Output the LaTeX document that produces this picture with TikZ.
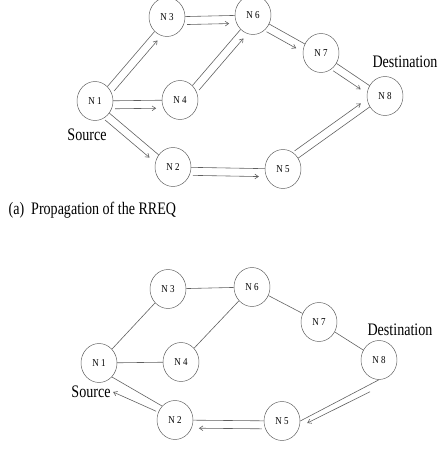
\documentclass[tikz,border=0pt]{standalone}
\usepackage{fontspec}
\setmainfont{Liberation Serif}
\newfontfamily\tagfont[FakeStretch=0.8]{Liberation Serif}
\newfontfamily\hostfont[FakeStretch=0.85,LetterSpace=20]{Liberation Serif}
\usetikzlibrary{shapes.geometric,calc,arrows.meta}
\definecolor{wire}{RGB}{95,95,95}
\tikzset{
  host/.style={draw=wire,ellipse,minimum width=1.08cm,minimum height=1.17cm,inner sep=0pt,
    font=\hostfont\fontsize{9}{10}\selectfont},
  link/.style={draw=wire,line width=0.5pt},
  msg/.style={draw=wire,line width=0.5pt,-{Straight Barb[length=3pt,width=4pt]},
    shorten <=0.6cm,shorten >=0.72cm},
  tag/.style={font=\tagfont\fontsize{15}{17}\selectfont,inner sep=2pt},
}
\def\gap{0.24cm}
% link between two hosts plus the message arrow beside it
\newcommand{\hop}[4][]{%
  \draw[link] (#3) -- (#4);
  \draw[msg,#1] ($(#3)!\gap!#2:(#4)$) -- ($(#4)!-\gap!#2:(#3)$);}

\begin{document}
\begin{tikzpicture}[x=0.03cm,y=-0.03cm]
  \useasboundingbox (0,0) rectangle (443,455);
  % (a) RREQ flooding
  \node[host] (t1) at (95,101) {N1};
  \node[host] (t3) at (167,17) {N3};
  \node[host] (t4) at (180,100) {N4};
  \node[host] (t6) at (253,15) {N6};
  \node[host] (t7) at (321,53) {N7};
  \node[host] (t8) at (385,96) {N8};
  \node[host] (t2) at (173,167) {N2};
  \node[host] (t5) at (283,169) {N5};
  \node[tag] (tsrc) at (87,135) {Source};
  \node[tag] (tdst) at (405,62) {Destination};
  \node[tag,anchor=west] (cap) at (6,210) {(a)\ \ Propagation of the RREQ};
  \hop{-90}{t1}{t3}
  \hop{-90}{t1}{t4}
  \hop{-90}{t1}{t2}
  \hop{-90}{t3}{t6}
  \hop{-90}{t4}{t6}
  \hop{-90}{t6}{t7}
  \hop{-90}{t7}{t8}
  \hop{-90}{t2}{t5}
  \hop{90}{t5}{t8}
  % RREP back to the source
  \node[host] (b1) at (99,363) {N1};
  \node[host] (b3) at (168,289) {N3};
  \node[host] (b4) at (181,362) {N4};
  \node[host] (b6) at (252,287) {N6};
  \node[host] (b7) at (319,322) {N7};
  \node[host] (b8) at (379,360) {N8};
  \node[host] (b2) at (175,420) {N2};
  \node[host] (b5) at (282,421) {N5};
  \node[tag] (bsrc) at (91,392) {Source};
  \node[tag] (bdst) at (400,330) {Destination};
  \draw[link] (b1) -- (b3);
  \draw[link] (b3) -- (b6);
  \draw[link] (b6) -- (b7);
  \draw[link] (b7) -- (b8);
  \draw[link] (b1) -- (b4);
  \draw[link] (b4) -- (b6);
  \draw[link] (b8.south) -- (b5.east);
  \draw[msg,shorten <=0pt,shorten >=0pt] ([shift={(-9,12)}]b8.south) -- ([shift={(7,2)}]b5.east);
  \hop{90}{b5}{b2}
  \draw[link] (b1.south east) -- (b2.north west);
  \draw[msg,shorten <=2pt,shorten >=0pt] (b2.155) -- (bsrc.east);
\end{tikzpicture}
\end{document}
